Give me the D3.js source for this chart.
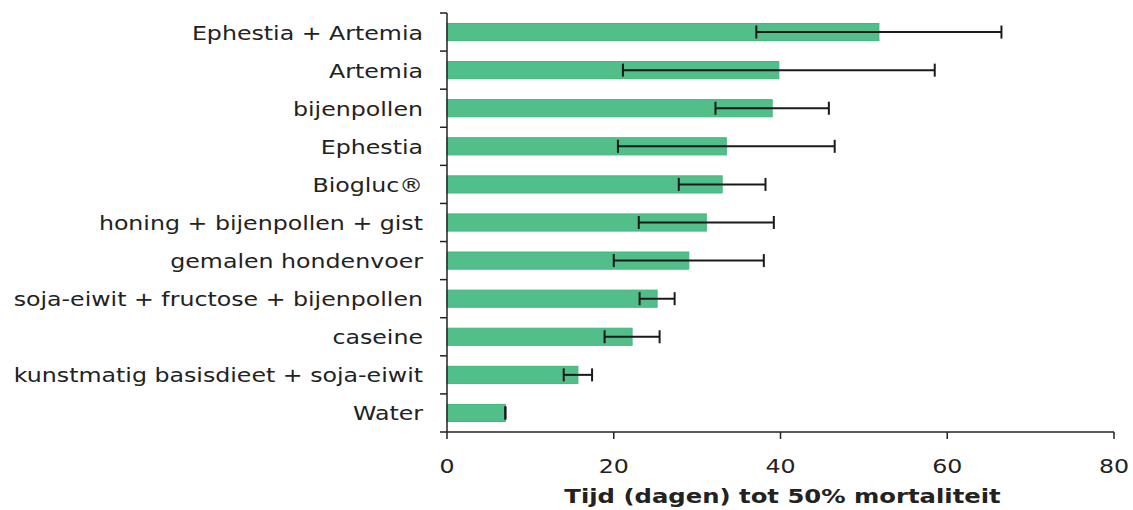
<!DOCTYPE html>
<html>
<head>
<meta charset="utf-8">
<script src="https://cdn.jsdelivr.net/npm/d3@7"></script>
<style>
  html, body { margin: 0; padding: 0; background: #fff; }
  svg { display: block; }
  text { font-family: "DejaVu Sans", Verdana, sans-serif; fill: #222; }
</style>
</head>
<body>
<svg id="chart" width="1133" height="510"></svg>
<script>
// Diets, top to bottom
const categories = [
  "Ephestia + Artemia",
  "Artemia",
  "bijenpollen",
  "Ephestia",
  "Biogluc®",
  "honing + bijenpollen + gist",
  "gemalen hondenvoer",
  "soja-eiwit + fructose + bijenpollen",
  "caseine",
  "kunstmatig basisdieet + soja-eiwit",
  "Water"
];
// Days until 50% mortality (mean) and its spread
const meanDays = [51.8, 39.8, 39.0, 33.5, 33.0, 31.1, 29.0, 25.2, 22.2, 15.7, 7.0];
const errDays  = [14.7, 18.7, 6.8, 13.0, 5.2, 8.1, 9.0, 2.1, 3.3, 1.7, 0];
const xTicks = [0, 20, 40, 60, 80];
const xTitle = "Tijd (dagen) tot 50% mortaliteit";

const svg = d3.select("#chart");
const plotLeft = 447, plotRight = 1114, plotTop = 13, plotBottom = 432;
const stretch = 1.185;     // horizontal text stretch
const titleStretch = 1.215;

const x = d3.scaleLinear().domain([0, 80]).range([plotLeft, plotRight]);
const y = d3.scaleBand().domain(categories).range([plotTop, plotBottom]).paddingInner(0.55).paddingOuter(0.275);

const rows = categories.map((c, i) => ({ c, m: meanDays[i], e: errDays[i] }));

// bars
svg.append("g").selectAll("rect").data(rows).join("rect")
  .attr("x", x(0))
  .attr("y", d => y(d.c))
  .attr("width", d => x(d.m) - x(0))
  .attr("height", y.bandwidth())
  .attr("fill", "#52be89")
  .attr("stroke", "#3fb878")
  .attr("stroke-width", 1);

// error bars
const eg = svg.append("g").attr("stroke", "#1a1a1a").attr("stroke-width", 2);
rows.forEach(d => {
  const cy = y(d.c) + y.bandwidth() / 2;
  eg.append("line").attr("x1", x(d.m - d.e)).attr("x2", x(d.m + d.e)).attr("y1", cy).attr("y2", cy);
  [d.m - d.e, d.m + d.e].forEach(v => {
    eg.append("line").attr("x1", x(v)).attr("x2", x(v)).attr("y1", cy - 6.5).attr("y2", cy + 6.5);
  });
});

// y axis: line with ticks at band boundaries
const step = (plotBottom - plotTop) / categories.length;
const ya = svg.append("g").attr("stroke", "#222").attr("stroke-width", 1.5);
ya.append("line").attr("x1", plotLeft).attr("x2", plotLeft).attr("y1", plotTop).attr("y2", plotBottom);
d3.range(categories.length + 1).forEach(i => {
  const yy = plotTop + i * step;
  ya.append("line").attr("x1", plotLeft - 7).attr("x2", plotLeft).attr("y1", yy).attr("y2", yy);
});

// category labels
svg.append("g").selectAll("text").data(categories).join("text")
  .attr("transform", d => `translate(${plotLeft - 24},${y(d) + y.bandwidth() / 2 + 7.5}) scale(${stretch},1)`)
  .attr("text-anchor", "end")
  .attr("font-size", 20)
  .text(d => d);

// x axis
const xa = svg.append("g").attr("stroke", "#222").attr("stroke-width", 1.5);
xa.append("line").attr("x1", plotLeft).attr("x2", plotRight).attr("y1", plotBottom).attr("y2", plotBottom);
xTicks.forEach(t => {
  xa.append("line").attr("x1", x(t)).attr("x2", x(t)).attr("y1", plotBottom).attr("y2", plotBottom + 7);
});
svg.append("g").selectAll("text").data(xTicks).join("text")
  .attr("transform", d => `translate(${x(d)},473) scale(${stretch},1)`)
  .attr("text-anchor", "middle")
  .attr("font-size", 20)
  .text(d => d);

svg.append("text")
  .attr("transform", `translate(${(plotLeft + plotRight) / 2 + 2},503) scale(${titleStretch},1)`)
  .attr("text-anchor", "middle")
  .attr("font-size", 20)
  .attr("font-weight", "bold")
  .text(xTitle);
</script>
</body>
</html>
